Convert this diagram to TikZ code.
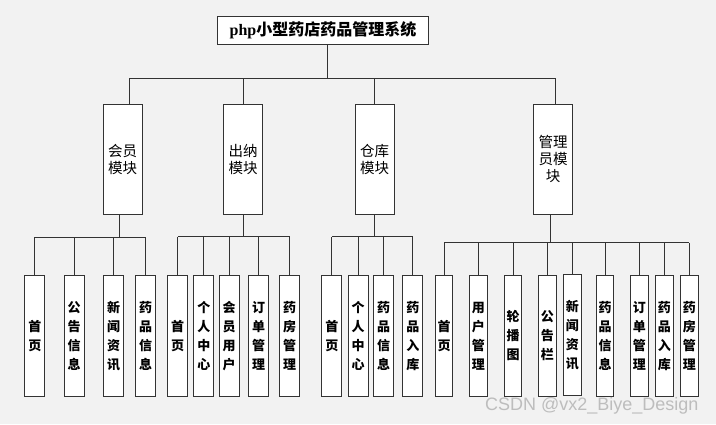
\documentclass[tikz,border=0pt]{standalone}
\usepackage{fontspec}
\setmainfont{Liberation Serif}
\newfontfamily\cjk{Noto Sans CJK SC}
\newfontfamily\wmfont{Liberation Sans}
\usetikzlibrary{calc}
\definecolor{bg}{HTML}{F2F2F2}
\definecolor{wm}{HTML}{BDBDBD}
\definecolor{ln}{HTML}{333333}
\begin{document}
\begin{tikzpicture}[x=1pt,y=-1pt,
  box/.style={draw=ln, fill=white, inner sep=0pt, line width=1pt},
  modbox/.style={box, minimum width=39.4pt, minimum height=110pt, align=center,
    font=\cjk\fontsize{14.5}{17}\selectfont},
  leaf/.style={box, minimum width=19.7pt, minimum height=121pt, align=center,
    font=\cjk\bfseries\fontsize{13}{19}\selectfont},
  leafn/.style={leaf, minimum width=17.4pt},
  conn/.style={draw=ln, line width=1pt}]
\fill[bg] (0,0) rectangle (716,424);
\useasboundingbox (0,0) rectangle (716,424);

% title
\node[box, minimum width=211.4pt, minimum height=27.6pt,
  font=\bfseries\fontsize{16}{18}\selectfont] (title) at (323,30.5)
  {php{\cjk 小型药店药品管理系统}};

% modules
\node[modbox] (m1) at (122.7,159) {会员\\模块};
\node[modbox] (m2) at (243,159) {出纳\\模块};
\node[modbox] (m3) at (374.7,159) {仓库\\模块};
\node[modbox] (m4) at (553,159) {管理\\员模\\块};

% leaves group 1
\node[leaf] (a1) at (34.8,335.9) {首\\页};
\node[leaf] (a2) at (74.2,335.9) {公\\告\\信\\息};
\node[leaf] (a3) at (113.5,335.9) {新\\闻\\资\\讯};
\node[leaf] (a4) at (145.5,335.9) {药\\品\\信\\息};
% group 2
\node[leaf] (b1) at (177.5,335.9) {首\\页};
\node[leaf] (b2) at (203.8,335.9) {个\\人\\中\\心};
\node[leaf] (b3) at (229.2,335.9) {会\\员\\用\\户};
\node[leaf] (b4) at (258.5,335.9) {订\\单\\管\\理};
\node[leaf] (b5) at (289.5,335.9) {药\\房\\管\\理};
% group 3
\node[leaf] (c1) at (331.8,335.9) {首\\页};
\node[leaf] (c2) at (358.2,335.9) {个\\人\\中\\心};
\node[leaf] (c3) at (383.5,335.9) {药\\品\\信\\息};
\node[leaf] (c4) at (412.8,335.9) {药\\品\\入\\库};
% group 4
\node[leafn] (d1) at (444,335.9) {首\\页};
\node[leafn] (d2) at (478.3,335.9) {用\\户\\管\\理};
\node[leafn] (d3) at (513,335.9) {轮\\播\\图};
\node[leafn] (d4) at (547.3,335.9) {公\\告\\栏};
\node[leafn] (d5) at (572.3,335.3) {新\\闻\\资\\讯};
\node[leafn] (d6) at (605,335.9) {药\\品\\信\\息};
\node[leafn] (d7) at (639.3,335.9) {订\\单\\管\\理};
\node[leafn] (d8) at (664.3,335.9) {药\\品\\入\\库};
\node[leafn] (d9) at (689.3,335.9) {药\\房\\管\\理};

% top bus
\coordinate (bus0) at (327.3,78);
\draw[conn] (title.south -| bus0) -- (bus0);
\draw[conn] ([xshift=6.6pt]m1.north) |- ([xshift=2.7pt]m4.north |- bus0) -- ([xshift=2.7pt]m4.north);
\draw[conn] (m2.north) -- (m2.north |- bus0);
\draw[conn] (m3.north) -- (m3.north |- bus0);

% group buses
\coordinate (g1) at (0,237);
\coordinate (g2) at (0,236.7);
\coordinate (g3) at (0,236.7);
\coordinate (g4) at (0,242.7);

\draw[conn] ([xshift=-3.4pt]m1.south) -- ([xshift=-3.4pt]m1.south |- g1);
\draw[conn] (a1.north |- g1) -- (a4.north |- g1);
\foreach \n in {a1,a2,a3,a4} \draw[conn] (\n.north) -- (\n.north |- g1);

\draw[conn] (m2.south) -- (m2.south |- g2);
\draw[conn] (b1.north |- g2) -- (b5.north |- g2);
\foreach \n in {b1,b2,b3,b4,b5} \draw[conn] (\n.north) -- (\n.north |- g2);

\draw[conn] (m3.south) -- (m3.south |- g3);
\draw[conn] (c1.north |- g3) -- (c4.north |- g3);
\foreach \n in {c1,c2,c3,c4} \draw[conn] (\n.north) -- (\n.north |- g3);

\draw[conn] ([xshift=-3pt]m4.south) -- ([xshift=-3pt]m4.south |- g4);
\draw[conn] (d1.north |- g4) -- (d9.north |- g4);
\foreach \n in {d1,d2,d3,d4,d5,d6,d7,d8,d9} \draw[conn] (\n.north) -- (\n.north |- g4);

% watermark
\node[anchor=base west, inner sep=0pt, text=wm, font=\wmfont\fontsize{18}{20}\selectfont] (wmark) at (485,410) {CSDN @vx2\_Biye\_Design};
\end{tikzpicture}
\end{document}
